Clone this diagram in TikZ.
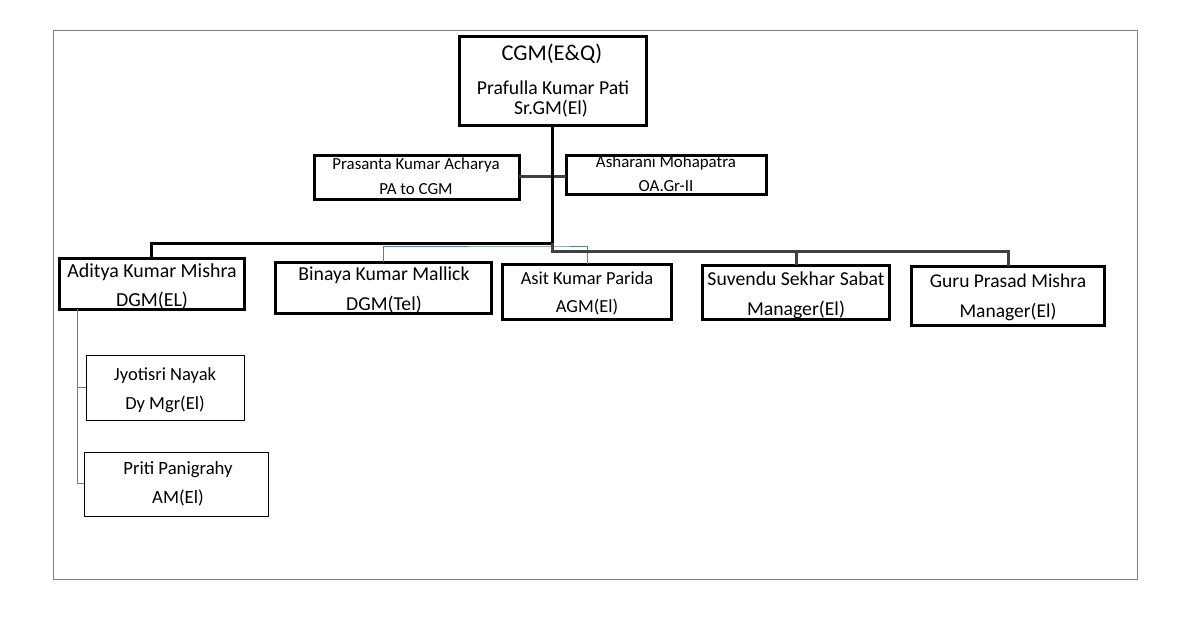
\documentclass[tikz,border=0pt]{standalone}
\usepackage{fontspec}
\setmainfont{Carlito}
\definecolor{frame}{HTML}{7F7F7F}
\definecolor{dkline}{HTML}{404040}
\definecolor{thinline}{HTML}{5B7F98}
\newcommand{\fs}[1]{\fontsize{#1}{#1}\selectfont}
\begin{document}
\begin{tikzpicture}[x=1pt,y=-1pt,
  thickbox/.style={draw=black,line width=3pt,inner sep=0pt,outer sep=0pt,anchor=north west},
  thinbox/.style={draw=black,line width=1pt,inner sep=0pt,outer sep=0pt,anchor=north west},
  lbl/.style={inner sep=0pt,anchor=base},
  thickconn/.style={draw=black,line width=3pt},
  dkconn/.style={draw=dkline,line width=3pt},
  thinconn/.style={draw=thinline,line width=1pt}]
\useasboundingbox (0,0) rectangle (1202,618);
\draw[frame,line width=1pt] (53,31) rectangle (1137,579);

% boxes
\node[thickbox,minimum width=187pt,minimum height=88pt] (cgm) at (459,37) {};
\node[thickbox,minimum width=205pt,minimum height=44pt] (pa) at (314,155) {};
\node[thickbox,minimum width=200pt,minimum height=39pt] (oa) at (566,155) {};
\node[thickbox,minimum width=185pt,minimum height=51pt] (adi) at (59,258) {};
\node[thickbox,minimum width=216pt,minimum height=51pt] (bin) at (275,262) {};
\node[thickbox,minimum width=169pt,minimum height=55pt] (asi) at (502,264) {};
\node[thickbox,minimum width=187pt,minimum height=54pt] (suv) at (702,265) {};
\node[thickbox,minimum width=193pt,minimum height=59pt] (gur) at (911,266) {};
\node[thinbox,minimum width=158pt,minimum height=65pt] (jyo) at (86,355) {};
\node[thinbox,minimum width=184pt,minimum height=64pt] (pri) at (84,452) {};

% labels
\node[lbl,font=\fs{22.5}] (t1) at (552,60) {CGM(E\&Q)};
\node[lbl,font=\fs{19.7}] (t2) at (553,94) {Prafulla Kumar Pati};
\node[lbl,font=\fs{19.7}] (t3) at (551,114) {Sr.GM(El)};
\node[lbl,font=\fs{16.9}] (t4) at (416,169) {Prasanta Kumar Acharya};
\node[lbl,font=\fs{16.9}] (t5) at (416,194) {PA to CGM};
\node[lbl,font=\fs{16.9}] (t6) at (666,167) {Asharani Mohapatra};
\node[lbl,font=\fs{16.9}] (t7) at (666,191) {OA.Gr-II};
\node[lbl,font=\fs{19.9}] (t8) at (152,277) {Aditya Kumar Mishra};
\node[lbl,font=\fs{19.9}] (t9) at (152,306) {DGM(EL)};
\node[lbl,font=\fs{19.7}] (t10) at (384,280) {Binaya Kumar Mallick};
\node[lbl,font=\fs{19.7}] (t11) at (384,310) {DGM(Tel)};
\node[lbl,font=\fs{18.4}] (t12) at (587,284) {Asit Kumar Parida};
\node[lbl,font=\fs{18.4}] (t13) at (587,312) {AGM(El)};
\node[lbl,font=\fs{19.7}] (t14) at (796,285) {Suvendu Sekhar Sabat};
\node[lbl,font=\fs{19.7}] (t15) at (796,315) {Manager(El)};
\node[lbl,font=\fs{19.5}] (t16) at (1008,287) {Guru Prasad Mishra};
\node[lbl,font=\fs{19.5}] (t17) at (1008,317) {Manager(El)};
\node[lbl,font=\fs{18.5}] (t18) at (165,380) {Jyotisri Nayak};
\node[lbl,font=\fs{18.5}] (t19) at (165,409) {Dy Mgr(El)};
\node[lbl,font=\fs{18.7}] (t20) at (178,474) {Priti Panigrahy};
\node[lbl,font=\fs{18.7}] (t21) at (178,503) {AM(El)};

% junction coordinates
\coordinate (pj) at (552,176);
\coordinate (j1) at (552,243);
\coordinate (j2) at (552,251);
\coordinate (j3) at (552,246);
\coordinate (a1) at (77,387);
\coordinate (a2) at (77,483);

% connectors
\draw[dkconn] (pa.east |- pj) -- (oa.west |- pj);
\draw[thickconn] (cgm.south -| pj) -- (j1);
\draw[thickconn] (j1) -| (adi.north -| 151,0);
\draw[thinconn] (bin.north -| 383,0) |- (j3) -| (asi.north -| 587,0);
\draw[dkconn] (j1) -- (j2) -| (suv.north -| 796,0);
\draw[dkconn] (j2) -| (gur.north -| 1008,0);
\draw[thinconn] (adi.south -| a1) -- (a2) -- (pri.west |- a2);
\draw[thinconn] (a1) -- (jyo.west |- a1);
\end{tikzpicture}
\end{document}
